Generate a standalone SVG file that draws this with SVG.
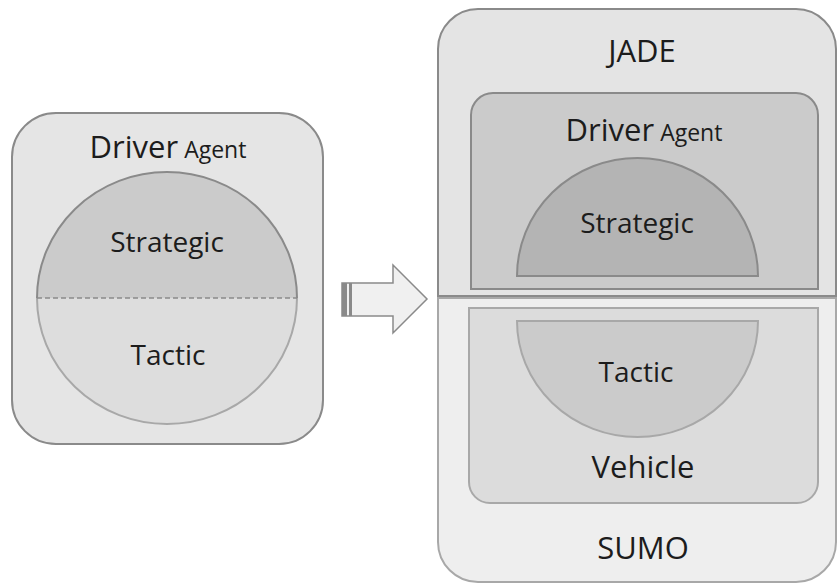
<svg xmlns="http://www.w3.org/2000/svg" width="838" height="583" viewBox="0 0 838 583">
<style>
text{font-family:"Open Sans","DejaVu Sans",sans-serif;fill:#1c1c1c;text-anchor:middle}
.big{font-size:31px}
.mid{font-size:28px}
.small{font-size:23px}
.dk{stroke:#8a8a8a;stroke-width:2}
.lt{stroke:#a8a8a8;stroke-width:2}
</style>
<rect width="838" height="583" fill="#ffffff"/>
<g id="driver-agent-left">
<rect x="12" y="113" width="311" height="331" rx="44" ry="44" fill="#e5e5e5" class="dk"/>
<text x="168" y="158"><tspan class="big">Driver</tspan><tspan class="small"> Agent</tspan></text>
</g>
<g id="strategic-left">
<path d="M37,298 A130,126 0 0 1 297,298 Z" fill="#cbcbcb" stroke="none"/>
<path d="M37,298 A130,126 0 0 1 297,298" fill="none" class="dk"/>
<text class="mid" x="167" y="252">Strategic</text>
</g>
<g id="tactic-left">
<path d="M37,298 A130,126 0 0 0 297,298 Z" fill="#dddddd" stroke="none"/>
<path d="M37,298 A130,126 0 0 0 297,298" fill="none" class="lt"/>
<text class="mid" x="168" y="365">Tactic</text>
</g>
<g id="connectors">
<line x1="37" y1="298" x2="297" y2="298" stroke="#8a8a8a" stroke-width="1.5" stroke-dasharray="5,3"/>
<path d="M342,283 L393,283 L393,265 L427,299 L393,333 L393,316 L342,316 Z" fill="#f0f0f0" stroke="#8a8a8a" stroke-width="1.5"/>
<rect x="342" y="283" width="5" height="33" fill="#8a8a8a"/>
<rect x="349" y="283" width="3" height="33" fill="#8a8a8a"/>
</g>
<g id="jade">
<path d="M438,296 L438,49 A40,40 0 0 1 478,9 L796,9 A40,40 0 0 1 836,49 L836,296 Z" fill="#e4e4e4" class="dk"/>
<text class="big" x="642" y="62">JADE</text>
</g>
<g id="sumo">
<path d="M438,298 L836,298 L836,542 A40,40 0 0 1 796,582 L478,582 A40,40 0 0 1 438,542 Z" fill="#eeeeee" class="lt"/>
<text class="big" x="643" y="559">SUMO</text>
</g>
<g id="driver-agent-right">
<path d="M471,289 L471,115 A22,22 0 0 1 493,93 L796,93 A22,22 0 0 1 818,115 L818,289 Z" fill="#cbcbcb" class="dk"/>
<text x="644" y="141"><tspan class="big">Driver</tspan><tspan class="small"> Agent</tspan></text>
</g>
<g id="strategic-right">
<path d="M517,276 A120.5,118 0 0 1 758,276 Z" fill="#b4b4b4" class="dk"/>
<text class="mid" x="637" y="233">Strategic</text>
</g>
<g id="vehicle">
<path d="M469,308 L818,308 L818,482 A21,21 0 0 1 797,503 L490,503 A21,21 0 0 1 469,482 Z" fill="#dcdcdc" class="lt"/>
<text class="big" x="643" y="478">Vehicle</text>
</g>
<g id="tactic-right">
<path d="M517,321 L758,321 A120.5,116 0 0 1 517,321 Z" fill="#cbcbcb" class="lt"/>
<text class="mid" x="636" y="382">Tactic</text>
</g>
</svg>
